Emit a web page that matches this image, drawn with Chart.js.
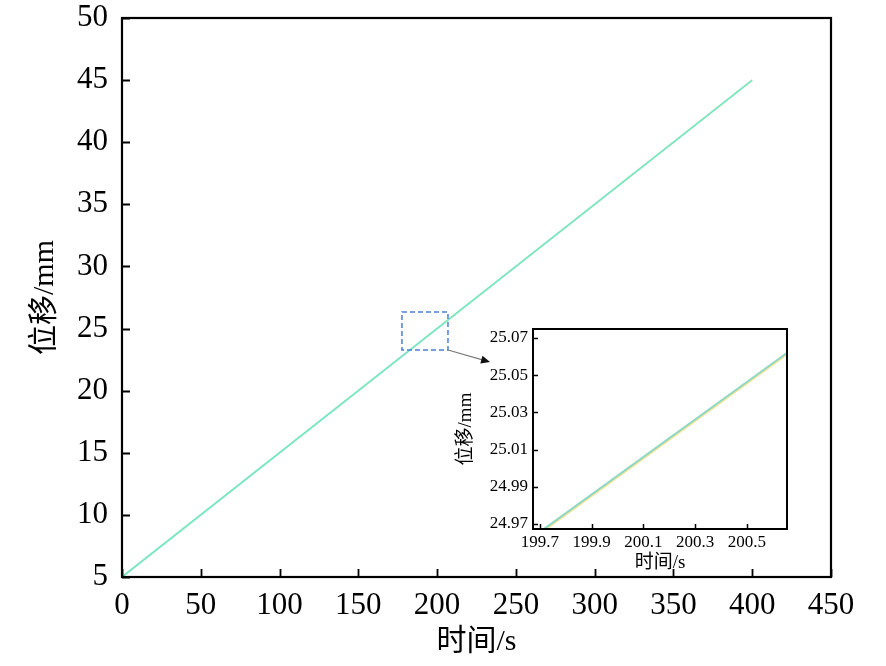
<!DOCTYPE html>
<html>
<head>
<meta charset="utf-8">
<script src="https://cdn.jsdelivr.net/npm/chart.js@4.4.1/dist/chart.umd.min.js"></script>
<style>
  html, body { margin: 0; padding: 0; background: #fff; }
  #wrap { position: relative; width: 886px; height: 666px; }
  #main { position: absolute; left: 0; top: 0; }
  #inset { position: absolute; left: 440px; top: 320px; }
</style>
</head>
<body>
<div id="wrap">
  <canvas id="main" width="886" height="666"></canvas>
  <canvas id="inset" width="360" height="255"></canvas>
</div>
<script>
// main chart data
const timeMain = [0, 400];
const dispMain = [5, 45];

// zoomed window (inset) data, two nearly overlapping curves
const timeInset = [199.6, 200.7];
const dispInsetA = [24.9557, 25.0665];
const dispInsetB = [24.9549, 25.0657];

const xTicksInset = [199.7, 199.9, 200.1, 200.3, 200.5];
const yTicksInset = [24.97, 24.99, 25.01, 25.03, 25.05, 25.07];

// dashed box marking the zoomed region, and where the arrow points
const zoomBoxTime = [177.7, 206.9];
const zoomBoxDisp = [23.27, 26.33];
const arrowTip = [233.6, 22.3];

const serif = "'Liberation Serif', 'Times New Roman', 'Noto Sans CJK SC', serif";

const toPoints = (xs, ys) => xs.map((x, i) => ({ x, y: ys[i] }));

// fixed axis sizes so the plot box lands where the picture has it
const fixY = w => s => { s.width = w; s.paddingTop = 0; s.paddingBottom = 0; };
const fixX = h => s => { s.height = h; s.paddingLeft = 0; s.paddingRight = 0; };

const frameTicks = {
    id: 'frameTicks',
    afterDraw(chart, args, opts) {
        const { ctx, chartArea: a, scales: { x, y } } = chart;
        ctx.save();
        ctx.strokeStyle = '#000';
        ctx.lineWidth = opts.width;
        ctx.beginPath();
        x.ticks.forEach(t => {
            const px = Math.round(x.getPixelForValue(t.value)) + 0.5;
            ctx.moveTo(px, a.bottom);
            ctx.lineTo(px, a.bottom - opts.len);
        });
        y.ticks.forEach(t => {
            const py = Math.round(y.getPixelForValue(t.value)) + 0.5;
            ctx.moveTo(a.left, py);
            ctx.lineTo(a.left + opts.len, py);
        });
        ctx.stroke();
        ctx.lineWidth = opts.frame;
        ctx.strokeRect(a.left, a.top, a.right - a.left, a.bottom - a.top);
        ctx.restore();
    }
};

const zoomMark = {
    id: 'zoomMark',
    afterDatasetsDraw(chart) {
        const { ctx, scales: { x, y } } = chart;
        const x0 = x.getPixelForValue(zoomBoxTime[0]);
        const x1 = x.getPixelForValue(zoomBoxTime[1]);
        const y0 = y.getPixelForValue(zoomBoxDisp[1]);
        const y1 = y.getPixelForValue(zoomBoxDisp[0]);
        ctx.save();
        ctx.strokeStyle = '#4a7fd6';
        ctx.lineWidth = 1.5;
        ctx.setLineDash([5, 3]);
        ctx.strokeRect(x0, y0, x1 - x0, y1 - y0);
        ctx.setLineDash([]);

        // arrow from the box corner to the inset
        const tx = x.getPixelForValue(arrowTip[0]);
        const ty = y.getPixelForValue(arrowTip[1]);
        const ang = Math.atan2(ty - y1, tx - x1);
        ctx.strokeStyle = '#7a7a7a';
        ctx.lineWidth = 1.2;
        ctx.beginPath();
        ctx.moveTo(x1, y1);
        ctx.lineTo(tx - 6 * Math.cos(ang), ty - 6 * Math.sin(ang));
        ctx.stroke();
        ctx.fillStyle = '#111';
        ctx.beginPath();
        ctx.moveTo(tx, ty);
        ctx.lineTo(tx - 9 * Math.cos(ang) + 4 * Math.sin(ang), ty - 9 * Math.sin(ang) - 4 * Math.cos(ang));
        ctx.lineTo(tx - 9 * Math.cos(ang) - 4 * Math.sin(ang), ty - 9 * Math.sin(ang) + 4 * Math.cos(ang));
        ctx.closePath();
        ctx.fill();
        ctx.restore();
    }
};

// note: chart.js paints dataset 0 last, so the aqua curve goes first
const mainChart = new Chart(document.getElementById('main').getContext('2d'), {
    type: 'scatter',
    data: {
        datasets: [{
            data: toPoints(timeMain, dispMain),
            showLine: true,
            borderColor: '#76e8c8',
            borderWidth: 1.8,
            pointRadius: 0
        }, {
            data: toPoints(timeMain, dispMain),
            showLine: true,
            borderColor: '#eee08c',
            borderWidth: 1.5,
            pointRadius: 0
        }]
    },
    options: {
        responsive: false,
        animation: false,
        devicePixelRatio: 1,
        layout: { padding: { left: 0, top: 18, right: 55, bottom: 0 } },
        plugins: {
            legend: { display: false },
            tooltip: { enabled: false },
            frameTicks: { width: 1.8, frame: 2.2, len: 8 }
        },
        scales: {
            x: {
                type: 'linear',
                min: 0,
                max: 450,
                ticks: { stepSize: 50, padding: 10, color: '#000', font: { family: serif, size: 31 } },
                grid: { display: false, drawTicks: false },
                border: { display: false },
                title: { display: true, text: '时间/s', color: '#000', font: { family: serif, size: 30 }, padding: { top: 0, bottom: 6 } },
                afterFit: fixX(89)
            },
            y: {
                min: 5,
                max: 50,
                ticks: { stepSize: 5, padding: 14, color: '#000', font: { family: serif, size: 31 } },
                grid: { display: false, drawTicks: false },
                border: { display: false },
                title: { display: true, text: '位移/mm', color: '#000', font: { family: serif, size: 30 }, padding: { top: 27, bottom: 0 } },
                afterFit: fixY(122)
            }
        }
    },
    plugins: [frameTicks, zoomMark]
});

const insetChart = new Chart(document.getElementById('inset').getContext('2d'), {
    type: 'scatter',
    data: {
        datasets: [{
            data: toPoints(timeInset, dispInsetA),
            showLine: true,
            borderColor: '#8cd8c6',
            borderWidth: 2,
            pointRadius: 0
        }, {
            data: toPoints(timeInset, dispInsetB),
            showLine: true,
            borderColor: '#f2e190',
            borderWidth: 2,
            pointRadius: 0
        }]
    },
    options: {
        responsive: false,
        animation: false,
        devicePixelRatio: 1,
        layout: { padding: { left: 0, top: 9, right: 13, bottom: 0 } },
        plugins: {
            legend: { display: false },
            tooltip: { enabled: false },
            frameTicks: { width: 1.5, frame: 2, len: 5 }
        },
        scales: {
            x: {
                type: 'linear',
                min: 199.673,
                max: 200.655,
                afterBuildTicks: s => { s.ticks = xTicksInset.map(v => ({ value: v })); },
                ticks: { padding: 3, color: '#000', font: { family: serif, size: 17 }, callback: v => v.toFixed(1) },
                grid: { display: false, drawTicks: false },
                border: { display: false },
                title: { display: true, text: '时间/s', color: '#000', font: { family: serif, size: 19 }, padding: { top: 0, bottom: 1 } },
                afterFit: fixX(46)
            },
            y: {
                min: 24.9673,
                max: 25.0748,
                afterBuildTicks: s => { s.ticks = yTicksInset.map(v => ({ value: v })); },
                ticks: { padding: 5, color: '#000', font: { family: serif, size: 17 }, callback: v => v.toFixed(2) },
                grid: { display: false, drawTicks: false },
                border: { display: false },
                title: { display: true, text: '位移/mm', color: '#000', font: { family: serif, size: 19 }, padding: { top: 15, bottom: 0 } },
                afterFit: fixY(93)
            }
        }
    },
    plugins: [frameTicks]
});
</script>
</body>
</html>
